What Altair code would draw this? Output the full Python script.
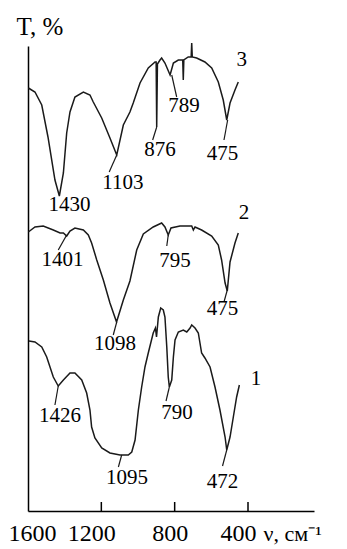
import altair as alt
import pandas as pd

# ---- data (wavenumber, cm-1 ; transmittance, arbitrary offset units) ----
wn3 = [1598, 1562, 1525, 1491, 1453, 1429, 1407, 1389, 1371, 1344, 1298, 1262, 1244, 1198, 1153, 1116,
       1080, 1044, 1026, 989, 944, 907, 901, 898, 894, 880, 871, 853, 825, 807, 780, 756, 753, 750,
       726, 710, 707, 704, 680, 635, 598, 562, 535, 516, 498, 471, 453]
t3 = [423, 419, 406, 374, 331, 315, 338, 378, 399, 414, 419, 416, 409, 393, 373, 356,
      386, 399, 408, 428, 443, 449, 449, 384, 447, 451, 453, 448, 436, 448, 451, 451, 431, 451,
      454, 454, 468, 454, 453, 449, 443, 429, 411, 391, 408, 421, 429]

wn2 = [1598, 1562, 1517, 1462, 1425, 1407, 1389, 1371, 1344, 1298, 1271, 1253, 1225, 1189, 1153, 1117,
       1080, 1044, 1007, 971, 917, 871, 853, 835, 820, 771, 707, 698, 689, 653, 598, 562, 544, 525,
       513, 498, 471, 453]
t2 = [279, 284, 285, 281, 278, 278, 275, 280, 283, 281, 276, 268, 251, 231, 208, 189,
      211, 230, 261, 277, 284, 288, 284, 276, 283, 285, 285, 281, 284, 281, 275, 266, 251, 228,
      220, 249, 268, 278]

wn1 = [1595, 1562, 1525, 1498, 1462, 1435, 1407, 1371, 1344, 1307, 1280, 1262, 1253, 1235, 1198, 1153,
       1098, 1053, 1034, 1016, 998, 980, 962, 944, 917, 905, 899, 889, 876, 862, 853, 843, 835, 829,
       816, 807, 798, 780, 753, 734, 716, 707, 689, 671, 653, 635, 607, 580, 553, 525, 516, 498,
       480, 462, 447]
t1 = [170, 169, 164, 154, 134, 125, 131, 138, 138, 131, 118, 101, 84, 73, 63, 58,
      56, 56, 59, 71, 101, 124, 144, 158, 178, 183, 174, 194, 203, 201, 194, 164, 134, 124,
      131, 154, 171, 179, 181, 179, 183, 186, 183, 178, 158, 153, 144, 124, 101, 74, 61, 74,
      94, 114, 126]

# peak labels: text, label position, leader start (peak), leader end
lab_text = ["1430", "1103", "876", "789", "475", "3",
            "1401", "1098", "795", "475", "2",
            "1426", "1095", "790", "472", "1"]
lab_wn = [1374, 1082, 880, 749, 539, 434,
          1412, 1125, 798, 539, 422,
          1425, 1060, 787, 539, 356]
lab_t = [306, 328, 361, 405, 357, 451,
         251, 167, 250, 202, 298,
         95, 33, 98, 29, 132]

lead_wn = [1116, 898, 816, 511, 1389, 1116, 835, 513, 1435, 1089, 829, 516]
lead_t = [356, 384, 436, 391, 276, 189, 276, 221, 125, 56, 124, 61]
lead_wn2 = [1157, 920, 789, 531, 1435, 1135, 843, 531, 1453, 1107, 847, 539]
lead_t2 = [339, 371, 414, 371, 261, 176, 265, 209, 106, 44, 110, 45]

tick_vals = [1600, 1200, 800, 400]
tick_marks = [1200, 800, 400]

# ---- tables ----
rows = []
for name, w, t in (("1", wn1, t1), ("2", wn2, t2), ("3", wn3, t3)):
    for i, (a, b) in enumerate(zip(w, t)):
        rows.append({"series": name, "i": i, "wn": a, "T": b})
spec = pd.DataFrame(rows)
labels = pd.DataFrame({"text": lab_text, "wn": lab_wn, "T": lab_t})
leaders = pd.DataFrame({"wn": lead_wn, "T": lead_t, "wn2": lead_wn2, "T2": lead_t2})
ticks = pd.DataFrame({"wn": tick_marks})

FONT = "Liberation Serif"
xs = alt.Scale(domain=[40, 1600], reverse=True, nice=False, zero=False)
ys = alt.Scale(domain=[0, 465], nice=False, zero=False)

label_offset = {
    "condition": [
        {"test": "datum.value == 1600", "value": 4},
        {"test": "datum.value == 800", "value": -5},
    ],
    "value": -10,
}

lines = alt.Chart(spec).mark_line(color="#1a1a1a", strokeWidth=1.5, interpolate="linear").encode(
    x=alt.X("wn:Q", scale=xs, axis=alt.Axis(
        values=tick_vals, format="d", ticks=False, tickSize=0, grid=False, domainColor="#000",
        domainWidth=1.5, labelFont=FONT, labelFontSize=24, labelColor="#000", labelPadding=29,
        labelBaseline="alphabetic", labelFlush=False, labelOverlap=False, labelOffset=label_offset,
        title="ν, см⁻¹", titleFont=FONT, titleFontSize=22, titleFontWeight="normal", titleColor="#000",
        titleX=235, titleY=29, titleAlign="left", titleBaseline="alphabetic")),
    y=alt.Y("T:Q", scale=ys, axis=alt.Axis(
        labels=False, ticks=False, grid=False, domainColor="#000", domainWidth=1.5,
        title="T, %", titleFont=FONT, titleFontSize=25, titleFontWeight="normal",
        titleColor="#000", titleAngle=0, titleX=-12, titleY=-20, titleAlign="left",
        titleBaseline="middle")),
    detail="series:N",
    order="i:Q",
)

lead = alt.Chart(leaders).mark_rule(color="#1a1a1a", strokeWidth=1.2).encode(
    x="wn:Q", y="T:Q", x2="wn2:Q", y2="T2:Q")

txt = alt.Chart(labels).mark_text(font=FONT, fontSize=21, color="#000", align="center",
                                  baseline="middle").encode(x="wn:Q", y="T:Q", text="text:N")

tk = alt.Chart(ticks).mark_rule(color="#000", strokeWidth=1.5).encode(
    x="wn:Q", y=alt.value(456), y2=alt.value(465))

chart = alt.layer(lines, lead, txt, tk).properties(
    width=286, height=465,
    padding={"left": 20, "top": 38, "right": 25, "bottom": 36},
    autosize=alt.AutoSizeParams(type="none"),
).configure_view(stroke=None)

chart.save("out.html", embed_options={"renderer": "svg", "actions": False})
